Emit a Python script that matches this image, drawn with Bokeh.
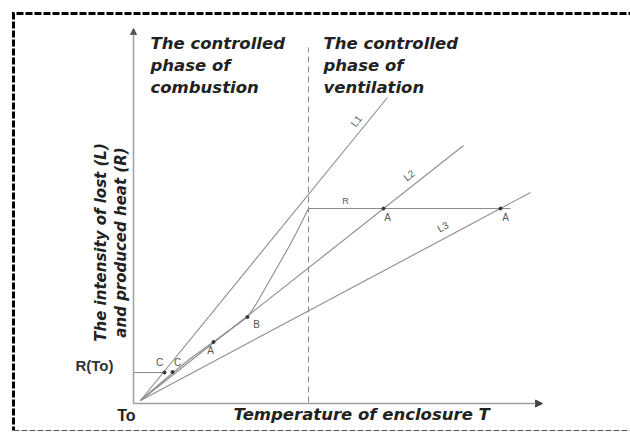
import math
from bokeh.plotting import figure
from bokeh.models import Range1d, Arrow, NormalHead, Label
from bokeh.embed import file_html
from bokeh.resources import INLINE

# ---- data (diagram units; origin at To) ----
line_names = ["L1", "L2", "L3"]
line_T_end = [24.7, 32.3, 39.0]
line_Q_end = [30.3, 25.5, 20.8]
line_label_T = [22.0, 27.2, 30.5]

curve_T = [0.0, 1.5, 3.2, 5.0, 7.0, 9.0, 10.7, 11.6, 12.4, 13.2, 14.0, 14.8, 15.6, 16.2, 16.8]
curve_R = [0.0, 1.3, 2.75, 4.2, 5.65, 7.1, 8.35, 9.7, 11.1, 12.5, 13.9, 15.3, 16.8, 18.0, 19.2]

R_To = 2.8           # R(To) level
R_T_end = 2.5        # end of R(To) line
T_switch = 16.8      # boundary between phases
R_level = 19.2       # ventilation-controlled R
R_level_end = 37.0

pts_T = [2.4, 3.2, 7.3, 10.7, 24.3, 36.0]
pts_Q = [2.8, 2.85, 5.85, 8.35, 19.2, 19.2]
pt_labels = ["C", "C", "A", "B", "A", "A"]
pt_label_T = [1.9, 3.7, 7.0, 11.6, 24.7, 36.5]
pt_label_Q = [3.8, 3.8, 5.0, 7.6, 18.3, 18.3]

T_axis_end = 40.2
Q_axis_end = 37.2

p = figure(width=630, height=432, output_backend="svg", toolbar_location=None,
           x_range=Range1d(-14.0, 49.0), y_range=Range1d(-3.2, 40.0),
           x_axis_location=None, y_axis_location=None, min_border=0,
           outline_line_color=None, background_fill_color="white")
p.xgrid.visible = False
p.ygrid.visible = False

# outer dashed frame (top + left as one path, bottom separately)
p.line([49.5, -12.7, -12.7], [38.7, 38.7, -3.0], line_color="black", line_width=3,
       line_dash="7 2", line_join="miter")
p.segment(x0=[-12.7], y0=[-3.0], x1=[49.5], y1=[-3.0], line_color="#555555",
          line_width=1.2, line_dash="6 2")

# axes with arrows
gray = "#8c8c8c"
p.add_layout(Arrow(x_start=-0.7, y_start=-0.3, x_end=-0.7, y_end=Q_axis_end,
                   line_color="#a0a0a0", line_width=1.5,
                   end=NormalHead(size=6, fill_color="#555555", line_color="#555555")))
p.add_layout(Arrow(x_start=-0.7, y_start=-0.3, x_end=T_axis_end, y_end=-0.3,
                   line_color="#a0a0a0", line_width=1.5,
                   end=NormalHead(size=7, fill_color="#444444", line_color="#444444")))

# phase boundary
p.line([T_switch, T_switch], [-0.2, 35.3], line_color="#888888", line_width=1, line_dash="6 4")

# heat loss lines
for name, te, qe, lt in zip(line_names, line_T_end, line_Q_end, line_label_T):
    p.line([0, te], [0, qe], line_color=gray, line_width=1.1)
    slope = qe / te
    p.add_layout(Label(x=lt, y=slope * lt + 0.6, text=name, angle=math.atan(slope),
                       text_align="center", text_baseline="bottom",
                       text_font="Liberation Sans", text_font_size="10px", text_color="#555555"))

# heat production curve and levels
p.line(curve_T, curve_R, line_color=gray, line_width=1.1)
p.line([-0.7, R_T_end], [R_To, R_To], line_color=gray, line_width=1.1)
p.line([T_switch, R_level_end], [R_level, R_level], line_color=gray, line_width=1.1)
p.add_layout(Label(x=20.5, y=20.0, text="R", text_align="center", text_baseline="middle",
                   text_font="Liberation Sans", text_font_size="9px", text_color="#555555"))

# points and labels
p.scatter(pts_T, pts_Q, size=3, color="#333333")
for t, q, s in zip(pt_label_T, pt_label_Q, pt_labels):
    p.add_layout(Label(x=t, y=q, text=s, text_align="center", text_baseline="middle",
                       text_font="Liberation Sans", text_font_size="10px", text_color="#555555"))

# axis texts
p.add_layout(Label(x=-0.5, y=-1.5, text="To", text_align="right", text_baseline="middle",
                   text_font="Liberation Sans", text_font_style="bold", text_font_size="16px",
                   text_color="#222222"))
p.add_layout(Label(x=-2.7, y=3.5, text="R(To)", text_align="right", text_baseline="middle",
                   text_font="Liberation Sans", text_font_style="bold", text_font_size="15px",
                   text_color="#333333"))
p.add_layout(Label(x=9.3, y=-1.4, text="Temperature of enclosure T", text_align="left",
                   text_baseline="middle", text_font="DejaVu Sans", text_font_style="bold italic",
                   text_font_size="16.5px", text_color="#222222"))
p.add_layout(Label(x=-4.0, y=15.8, text="The intensity of lost (L)", angle=math.pi / 2,
                   text_align="center", text_baseline="middle", text_font="DejaVu Sans",
                   text_font_style="bold italic", text_font_size="15px", text_color="#222222"))
p.add_layout(Label(x=-2.0, y=15.8, text="and produced heat (R)", angle=math.pi / 2,
                   text_align="center", text_baseline="middle", text_font="DejaVu Sans",
                   text_font_style="bold italic", text_font_size="15px", text_color="#222222"))

left_block = ["The controlled", "phase of", "combustion"]
right_block = ["The controlled", "phase of", "ventilation"]
block_y = [35.7, 33.5, 31.3]
for txt, yy in zip(left_block, block_y):
    p.add_layout(Label(x=1.0, y=yy, text=txt, text_align="left", text_baseline="middle",
                       text_font="DejaVu Sans", text_font_style="bold italic",
                       text_font_size="16.5px", text_color="#222222"))
for txt, yy in zip(right_block, block_y):
    p.add_layout(Label(x=18.3, y=yy, text=txt, text_align="left", text_baseline="middle",
                       text_font="DejaVu Sans", text_font_style="bold italic",
                       text_font_size="16.5px", text_color="#222222"))

open("out.html", "w").write(file_html(p, INLINE))
